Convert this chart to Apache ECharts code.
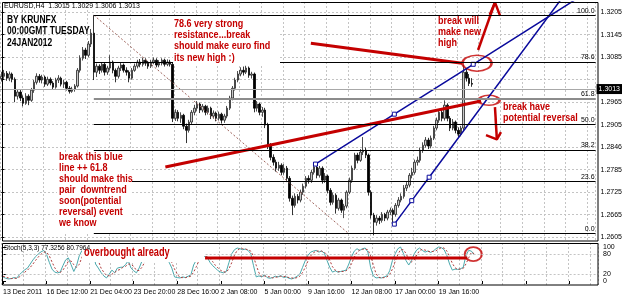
<!DOCTYPE html>
<html>
<head>
<meta charset="utf-8">
<script src="https://cdn.jsdelivr.net/npm/echarts@6/dist/echarts.min.js"></script>
<style>
html, body { margin: 0; padding: 0; background: #fff; }
#chart { width: 625px; height: 300px; }
</style>
</head>
<body>
<div id="chart"></div>
<script>
// EURUSD H4 bars, [open, close, low, high]
const candles = [
[1.3028,1.3034,1.3020,1.3046],[1.3034,1.3042,1.3027,1.3051],[1.3042,1.3029,1.3022,1.3048],[1.3029,1.3040,1.3021,1.3047],
[1.3040,1.3026,1.3018,1.3044],[1.3026,1.2981,1.2965,1.3031],[1.2981,1.2992,1.2972,1.3000],[1.2992,1.2976,1.2968,1.2998],
[1.2976,1.2962,1.2954,1.2983],[1.2962,1.2981,1.2958,1.2989],[1.2981,1.2970,1.2957,1.2986],[1.2970,1.2997,1.2966,1.3003],
[1.2997,1.3018,1.2990,1.3024],[1.3018,1.3034,1.3012,1.3042],[1.3034,1.3024,1.3017,1.3040],[1.3024,1.3032,1.3015,1.3038],
[1.3032,1.3013,1.3006,1.3036],[1.3013,1.3026,1.3008,1.3033],[1.3026,1.3016,1.3010,1.3031],[1.3016,1.3005,1.2998,1.3021],
[1.3005,1.3024,1.3001,1.3030],[1.3024,1.3029,1.3016,1.3037],[1.3029,1.3013,1.3007,1.3033],[1.3013,1.3018,1.3003,1.3025],
[1.3018,1.3002,1.2996,1.3022],[1.3002,1.2994,1.2988,1.3008],[1.2994,1.3000,1.2990,1.3006],[1.3000,1.3008,1.2993,1.3013],
[1.3008,1.3050,1.3004,1.3056],[1.3050,1.3082,1.3044,1.3090],[1.3082,1.3104,1.3076,1.3112],[1.3104,1.3090,1.3080,1.3110],
[1.3090,1.3120,1.3085,1.3128],[1.3120,1.3149,1.3112,1.3160],[1.3149,1.3045,1.3024,1.3197],[1.3045,1.3061,1.3032,1.3068],
[1.3061,1.3050,1.3040,1.3066],[1.3050,1.3066,1.3044,1.3072],[1.3066,1.3045,1.3036,1.3070],[1.3045,1.3056,1.3038,1.3062],
[1.3056,1.3072,1.3050,1.3090],[1.3072,1.3050,1.3042,1.3076],[1.3050,1.3034,1.3018,1.3055],[1.3034,1.3056,1.3028,1.3062],
[1.3056,1.3064,1.3048,1.3070],[1.3064,1.3050,1.3044,1.3068],[1.3050,1.3045,1.3036,1.3058],[1.3045,1.3029,1.3018,1.3050],
[1.3029,1.3050,1.3025,1.3056],[1.3050,1.3061,1.3046,1.3068],[1.3061,1.3072,1.3055,1.3078],[1.3072,1.3066,1.3058,1.3080],
[1.3066,1.3077,1.3060,1.3084],[1.3077,1.3069,1.3062,1.3082],[1.3069,1.3061,1.3054,1.3075],[1.3061,1.3072,1.3056,1.3078],
[1.3072,1.3077,1.3066,1.3084],[1.3077,1.3064,1.3058,1.3082],[1.3064,1.3069,1.3058,1.3077],[1.3069,1.3077,1.3063,1.3082],
[1.3077,1.3066,1.3060,1.3081],[1.3066,1.3072,1.3061,1.3079],[1.3072,1.3066,1.3060,1.3078],[1.3066,1.2922,1.2912,1.3070],
[1.2922,1.2938,1.2915,1.2946],[1.2938,1.2922,1.2914,1.2944],[1.2922,1.2930,1.2910,1.2938],[1.2930,1.2901,1.2893,1.2934],
[1.2901,1.2890,1.2856,1.2908],[1.2890,1.2912,1.2884,1.2918],[1.2912,1.2938,1.2906,1.2944],[1.2938,1.2949,1.2930,1.2958],
[1.2949,1.2960,1.2942,1.2968],[1.2960,1.2944,1.2936,1.2964],[1.2944,1.2954,1.2938,1.2960],[1.2954,1.2938,1.2930,1.2958],
[1.2938,1.2949,1.2932,1.2956],[1.2949,1.2928,1.2920,1.2953],[1.2928,1.2936,1.2921,1.2943],[1.2936,1.2922,1.2914,1.2940],
[1.2922,1.2933,1.2916,1.2940],[1.2933,1.2917,1.2908,1.2937],[1.2917,1.2928,1.2910,1.2934],[1.2928,1.2949,1.2922,1.2955],
[1.2949,1.2976,1.2944,1.2982],[1.2976,1.3002,1.2970,1.3008],[1.3002,1.3024,1.2996,1.3030],[1.3024,1.3040,1.3018,1.3048],
[1.3040,1.3050,1.3034,1.3058],[1.3050,1.3045,1.3036,1.3060],[1.3045,1.3056,1.3040,1.3062],[1.3056,1.3037,1.3030,1.3060],
[1.3037,1.3040,1.3028,1.3046],[1.3040,1.2949,1.2938,1.3044],[1.2949,1.2960,1.2940,1.2968],[1.2960,1.2938,1.2930,1.2964],
[1.2938,1.2944,1.2926,1.2952],[1.2944,1.2904,1.2896,1.2950],[1.2904,1.2850,1.2840,1.2910],[1.2850,1.2818,1.2810,1.2856],
[1.2818,1.2805,1.2796,1.2826],[1.2805,1.2789,1.2780,1.2812],[1.2789,1.2797,1.2782,1.2806],[1.2797,1.2778,1.2770,1.2802],
[1.2778,1.2789,1.2772,1.2800],[1.2789,1.2762,1.2752,1.2795],[1.2762,1.2709,1.2700,1.2768],[1.2709,1.2690,1.2664,1.2716],
[1.2690,1.2714,1.2684,1.2722],[1.2714,1.2704,1.2695,1.2720],[1.2704,1.2725,1.2698,1.2732],[1.2725,1.2741,1.2718,1.2748],
[1.2741,1.2762,1.2735,1.2768],[1.2762,1.2757,1.2748,1.2770],[1.2757,1.2778,1.2750,1.2785],[1.2778,1.2792,1.2772,1.2805],
[1.2792,1.2770,1.2762,1.2798],[1.2770,1.2789,1.2764,1.2795],[1.2789,1.2757,1.2748,1.2794],[1.2757,1.2768,1.2750,1.2776],
[1.2768,1.2730,1.2722,1.2772],[1.2730,1.2698,1.2690,1.2736],[1.2698,1.2717,1.2692,1.2724],[1.2717,1.2682,1.2668,1.2722],
[1.2682,1.2704,1.2676,1.2710],[1.2704,1.2677,1.2670,1.2708],[1.2677,1.2688,1.2656,1.2694],[1.2688,1.2725,1.2682,1.2730],
[1.2725,1.2757,1.2720,1.2764],[1.2757,1.2789,1.2750,1.2796],[1.2789,1.2824,1.2784,1.2830],[1.2824,1.2810,1.2802,1.2830],
[1.2810,1.2832,1.2806,1.2840],[1.2832,1.2837,1.2824,1.2872],[1.2837,1.2824,1.2816,1.2844],[1.2824,1.2725,1.2716,1.2828],
[1.2725,1.2664,1.2655,1.2730],[1.2664,1.2645,1.2610,1.2670],[1.2645,1.2656,1.2636,1.2664],[1.2656,1.2650,1.2640,1.2662],
[1.2650,1.2666,1.2644,1.2672],[1.2666,1.2656,1.2648,1.2670],[1.2656,1.2672,1.2650,1.2678],[1.2672,1.2677,1.2664,1.2684],
[1.2677,1.2666,1.2645,1.2682],[1.2666,1.2690,1.2660,1.2696],[1.2690,1.2704,1.2684,1.2712],[1.2704,1.2714,1.2698,1.2722],
[1.2714,1.2736,1.2708,1.2744],[1.2736,1.2744,1.2728,1.2752],[1.2744,1.2770,1.2738,1.2776],[1.2770,1.2778,1.2762,1.2790],
[1.2778,1.2805,1.2772,1.2812],[1.2805,1.2810,1.2796,1.2820],[1.2810,1.2837,1.2804,1.2844],[1.2837,1.2850,1.2830,1.2858],
[1.2850,1.2864,1.2844,1.2872],[1.2864,1.2848,1.2840,1.2870],[1.2848,1.2869,1.2842,1.2876],[1.2869,1.2896,1.2864,1.2902],
[1.2896,1.2917,1.2890,1.2924],[1.2917,1.2938,1.2910,1.2946],[1.2938,1.2922,1.2914,1.2944],[1.2922,1.2957,1.2916,1.2970],
[1.2957,1.2922,1.2914,1.2962],[1.2922,1.2896,1.2888,1.2928],[1.2896,1.2912,1.2890,1.2920],[1.2912,1.2890,1.2882,1.2916],
[1.2890,1.2880,1.2872,1.2898],[1.2880,1.2896,1.2874,1.2902],[1.2896,1.3045,1.2890,1.3064],[1.3045,1.3029,1.3020,1.3056],
[1.3029,1.3015,1.3008,1.3040],[1.3015,1.3013,1.3006,1.3029]
];

// Stochastic(5,3,3): main line and signal line
const stochMain = [
12,8,6,7,10,8,18,26,33,38,50,62,72,80,86,90,78,55,35,26,24,26,45,62,68,48,28,45,74,90,
97,96,95,92,50,38,25,15,9,20,32,24,38,40,41,48,60,38,30,24,38,58,70,78,72,65,75,68,72,80,
70,55,38,12,10,9,12,10,14,18,47,62,75,70,72,70,55,45,38,30,26,24,28,55,80,92,97,95,92,94,
90,80,45,12,15,12,18,10,8,10,14,12,16,10,12,8,6,9,14,20,40,60,76,85,88,90,85,88,82,60,
40,26,30,26,28,30,32,50,72,88,95,90,95,97,85,40,15,9,10,9,12,15,30,60,80,95,100,82,60,47,
60,80,92,97,90,85,88,84,88,95,100,98,92,75,50,32,35,34,36,40,75,90,88,77.3256
];
const stochSignal = [
14,11,9,7,8,8,12,17,26,32,40,50,61,71,79,85,85,74,56,39,28,25,32,44,58,59,48,40,49,70,
87,94,96,94,79,60,38,26,16,15,20,25,31,34,40,43,50,49,43,31,31,40,55,69,73,72,71,69,72,73,
74,68,54,35,20,10,10,10,12,14,26,42,61,69,72,71,66,57,46,38,31,27,26,36,54,76,90,95,95,94,
92,88,72,46,24,13,15,13,12,9,11,12,14,13,13,10,9,8,10,14,25,40,59,74,83,88,88,88,85,77,
61,42,32,27,28,28,30,37,51,70,85,91,93,94,92,74,47,21,11,9,10,12,19,35,57,78,92,92,81,63,
56,62,77,90,93,91,88,86,87,89,94,98,97,88,72,52,39,34,35,37,50,68,84,80.7964
];

const xTickLabels = ['13 Dec 2011', '16 Dec 12:00', '21 Dec 04:00', '23 Dec 20:00', '28 Dec 16:00',
  '2 Jan 08:00', '5 Jan 00:00', '9 Jan 16:00', '12 Jan 08:00', '17 Jan 00:00', '19 Jan 16:00'];
const barsPerLabel = 16;
const slotCount = 219; // visible bar slots incl. empty space on the right

const priceGrid = [1.2605, 1.2665, 1.2725, 1.2785, 1.2845, 1.2905, 1.2965, 1.3025, 1.3085, 1.3145, 1.3205];
const priceLabels = [1.2605, 1.2665, 1.2725, 1.2785, 1.2846, 1.2905, 1.2965, 1.3085, 1.3145, 1.3205];
const stochTicks = [0, 20, 80, 100];
const stochEdgeLabels = [0, 100];
const stochLevels = [20, 80];

// fibonacci retracement
const fibLevels = [0, 23.6, 38.2, 50, 61.8, 78.6, 100];
const fibHigh = 1.3197, fibLow = 1.2616;
const fibStartBar = 34, fibEndBar = 127.5;

// hand drawn lines, [bar, price]
const blueUpper = [[115.5, 1.2800], [144.5, 1.2933], [173.5, 1.3066], [211, 1.3238]];
const blueLower = [[144.5, 1.2640], [150.9, 1.27025], [157.3, 1.2765], [206, 1.3241]];
const redLong = [[60.3, 1.2792], [176.4, 1.2968]];
const redShort = [[113.8, 1.3122], [169.4, 1.3069]];
const arrowUpShaft = [[175.3, 1.3104], [181.5, 1.3231]];
const arrowUpHead = [[179.6, 1.3198], [181.5, 1.3231], [183.4, 1.3195]];
const arrowDownShaft = [[181.5, 1.2952], [182.2, 1.2866]];
const arrowDownHead = [[178.2, 1.2877], [182.2, 1.2866], [183.7, 1.2885]];
const circleBreakHigh = [174.9, 1.3069];
const circleReversal = [179.3, 1.2970];
const stochRedLine = [[74.2, 68], [170.5, 68]];
const circleStoch = [172.7, 79];

const RED = '#c40000';
const BLUE = '#0a0a9c';
const BOLD = 'Arial, "Liberation Sans", sans-serif';
const SMALL = 'Arial, "Liberation Sans", sans-serif';

const cats = Array.from({ length: slotCount }, (_, i) => i);
const last = candles[candles.length - 1];
const fib = fibLevels.map(l => ({ level: l, price: fibLow + (fibHigh - fibLow) * l / 100 }));

const chart = echarts.init(document.getElementById('chart'));

function lineSeries(data, color, width, extra) {
  return Object.assign({
    type: 'line', xAxisIndex: 1, yAxisIndex: 0, data: data,
    symbol: 'none', silent: true, animation: false,
    lineStyle: { color: color, width: width }
  }, extra || {});
}

// narrow bold note text (the screenshot was squeezed sideways)
function note(x, y, text, color, size, lh, sx) {
  return { type: 'text', z: 70, silent: true, x: x, y: y, scaleX: sx,
    style: { text: text, font: 'bold ' + size + 'px ' + BOLD, fill: color, lineHeight: lh, verticalAlign: 'top' } };
}

const gridLine = { show: true, lineStyle: { color: '#c4c4c4', type: [2, 2], width: 1 } };

const option = {
  animation: false,
  backgroundColor: '#fff',
  grid: [
    { left: 0, right: 27, top: 2, height: 239 },
    { left: 0, right: 27, top: 243, height: 42 }
  ],
  xAxis: [
    { type: 'category', gridIndex: 0, data: cats, boundaryGap: true,
      axisLine: { show: false }, axisTick: { show: false }, axisLabel: { show: false },
      splitLine: Object.assign({ interval: 7 }, gridLine) },
    { type: 'value', gridIndex: 0, min: -0.5, max: slotCount - 0.5, show: false },
    { type: 'category', gridIndex: 1, data: cats, boundaryGap: true,
      axisLine: { show: false },
      axisTick: { show: true, interval: barsPerLabel - 1, alignWithLabel: true, length: 3, lineStyle: { color: '#000' } },
      axisLabel: { interval: barsPerLabel - 1, align: 'left', margin: 4, fontSize: 7, fontFamily: SMALL, color: '#000',
        formatter: (v, i) => xTickLabels[i / barsPerLabel] || '' },
      splitLine: Object.assign({ interval: 7 }, gridLine) },
    { type: 'value', gridIndex: 1, min: -0.5, max: slotCount - 0.5, show: false }
  ],
  yAxis: [
    { type: 'value', gridIndex: 0, position: 'right', min: 1.2595, max: 1.3232,
      axisLine: { show: false },
      axisTick: { show: true, length: 3, customValues: priceGrid, lineStyle: { color: '#000' } },
      axisLabel: { customValues: priceLabels, fontSize: 7, fontFamily: SMALL, color: '#000', margin: 5,
        hideOverlap: false, formatter: v => v.toFixed(4) },
      splitLine: gridLine },
    { type: 'value', gridIndex: 1, position: 'right', min: -11.8, max: 111.8,
      axisLine: { show: false },
      axisTick: { show: true, length: 3, customValues: stochTicks, lineStyle: { color: '#000' } },
      axisLabel: { customValues: stochEdgeLabels, fontSize: 7, fontFamily: SMALL, color: '#000', margin: 5,
        hideOverlap: false, showMinLabel: true, showMaxLabel: true },
      splitLine: { show: false } }
  ],
  series: [
    { type: 'candlestick', xAxisIndex: 0, yAxisIndex: 0, data: candles, barWidth: 2,
      silent: true,
      itemStyle: { color: '#c8c8c8', color0: '#000', borderColor: '#222', borderColor0: '#000', borderWidth: 0.8 },
      markLine: {
        silent: true, symbol: 'none', animation: false,
        data: [{ yAxis: last[1] }],
        lineStyle: { color: '#a8a8a8', type: 'solid', width: 1 },
        label: { position: 'end', distance: 1, formatter: last[1].toFixed(4), backgroundColor: '#000',
          color: '#fff', fontSize: 7, fontFamily: SMALL, padding: [2, 2, 1, 2] }
      } },
    lineSeries([[fibStartBar, fibHigh], [fibEndBar, fibLow]], '#a0665e', 1, {
      lineStyle: { color: '#a0665e', width: 1, type: [2, 2] },
      markLine: {
        silent: true, symbol: 'none', animation: false,
        data: fib.map(f => [
          { coord: [fibStartBar, f.price],
            lineStyle: f.level === 61.8 ? { color: '#8c8c8c', width: 2, type: 'solid' } : { color: '#000', width: 1, type: 'solid' },
            label: { formatter: f.level.toFixed(1) } },
          { coord: [slotCount - 0.5, f.price] }
        ]),
        label: { position: 'insideEndTop', distance: [1, 1], fontSize: 7, fontFamily: SMALL, color: '#000' }
      }
    }),
    lineSeries(blueUpper.map((p, i) => i < 3 ? p : { value: p, symbol: 'none' }), BLUE, 1.5, {
      symbol: 'rect', symbolSize: 4, showSymbol: true,
      itemStyle: { color: '#fff', borderColor: BLUE, borderWidth: 1 } }),
    lineSeries(blueLower.map((p, i) => i < 3 ? p : { value: p, symbol: 'none' }), BLUE, 1.5, {
      symbol: 'rect', symbolSize: 4, showSymbol: true,
      itemStyle: { color: '#fff', borderColor: BLUE, borderWidth: 1 } }),
    lineSeries(redLong, RED, 3),
    lineSeries(redShort, RED, 3),
    lineSeries(arrowUpShaft, RED, 2.5),
    lineSeries(arrowUpHead, RED, 2.5),
    lineSeries(arrowDownShaft, RED, 2.5),
    lineSeries(arrowDownHead, RED, 2.5),
    { type: 'scatter', xAxisIndex: 1, yAxisIndex: 0, silent: true,
      data: [{ value: circleBreakHigh, symbolSize: [29, 16] }, { value: circleReversal, symbolSize: [21, 10] }],
      symbol: 'circle', itemStyle: { color: 'rgba(0,0,0,0)', borderColor: RED, borderWidth: 2 } },
    { type: 'line', xAxisIndex: 2, yAxisIndex: 1, data: stochMain, symbol: 'none', silent: true,
      lineStyle: { color: '#4aa9ad', width: 1 },
      markLine: { silent: true, symbol: 'none', data: stochLevels.map(v => ({ yAxis: v })),
        label: { show: true, position: 'end', distance: 5, fontSize: 7, fontFamily: SMALL, color: '#000', formatter: '{c}' },
        lineStyle: { color: '#c4c4c4', type: [2, 2], width: 1 } } },
    { type: 'line', xAxisIndex: 2, yAxisIndex: 1, data: stochSignal, symbol: 'none', silent: true,
      lineStyle: { color: '#b03a3a', width: 1, type: [2, 2] } },
    { type: 'line', xAxisIndex: 3, yAxisIndex: 1, data: stochRedLine, symbol: 'none', silent: true,
      lineStyle: { color: RED, width: 3 } },
    { type: 'scatter', xAxisIndex: 3, yAxisIndex: 1, silent: true,
      data: [{ value: circleStoch, symbolSize: [17, 14] }],
      symbol: 'circle', itemStyle: { color: 'rgba(0,0,0,0)', borderColor: RED, borderWidth: 2 } }
  ],
  graphic: [
    // pane frames
    { type: 'rect', z: 50, silent: true, shape: { x: 2.5, y: 2.5, width: 595.5, height: 238.5 },
      style: { fill: 'none', stroke: '#000', lineWidth: 1 } },
    { type: 'rect', z: 50, silent: true, shape: { x: 2.5, y: 243.5, width: 595.5, height: 41.5 },
      style: { fill: 'none', stroke: '#000', lineWidth: 1 } },
    // white boxes behind the notes
    { type: 'rect', z: 60, silent: true, shape: { x: 173, y: 17, width: 107, height: 47 }, style: { fill: '#fff' } },
    { type: 'rect', z: 60, silent: true, shape: { x: 57, y: 152, width: 75, height: 80 }, style: { fill: '#fff' } },
    { type: 'rect', z: 60, silent: true, shape: { x: 82, y: 244, width: 122, height: 18 }, style: { fill: '#fff' } },
    // texts
    { type: 'text', z: 70, silent: true, left: 4, top: 3,
      style: { text: 'EURUSD,H4  ' + [last[0], last[3], last[2], last[1]].map(v => v.toFixed(4)).join(' '),
        font: '7px ' + SMALL, fill: '#000' } },
    note(7, 14, 'BY KRUNFX\n00:00GMT TUESDAY\n24JAN2012', '#000', 11, 11.5, 0.77),
    note(174, 18, '78.6 very strong\nresistance...break\nshould make euro find\nits new high :)', RED, 11, 11.3, 0.82),
    note(438, 15, 'break will\nmake new\nhigh', RED, 11, 11, 0.82),
    note(503, 101, 'break have\npotential reversal', RED, 11, 11, 0.82),
    note(59, 151, 'break this blue\nline ++ 61.8\nshould make this\npair  downtrend\nsoon(potential\nreversal) event\nwe know', RED, 11, 11, 0.82),
    note(84, 247, 'overbought already', RED, 12, 12, 0.77),
    { type: 'text', z: 70, silent: true, left: 4, top: 245,
      style: { text: 'Stoch(5,3,3) ' + stochMain[stochMain.length - 1].toFixed(4) + ' ' + stochSignal[stochSignal.length - 1].toFixed(4),
        font: '6.5px ' + SMALL, fill: '#000' } }
  ]
};

chart.setOption(option);
</script>
</body>
</html>
